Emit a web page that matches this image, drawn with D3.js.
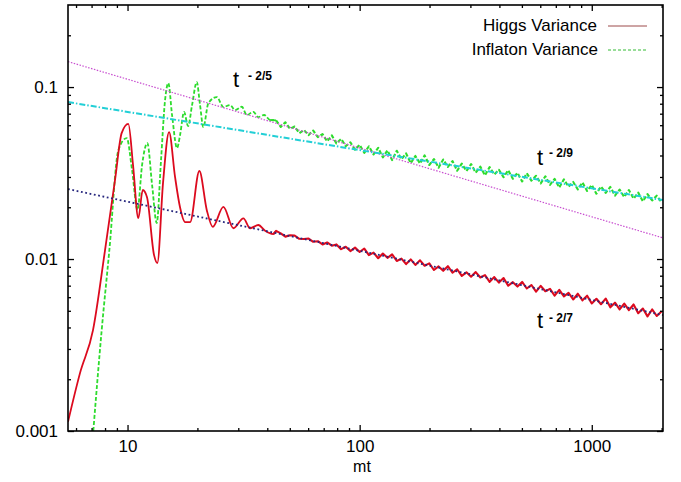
<!DOCTYPE html>
<html><head><meta charset="utf-8">
<script src="https://cdn.jsdelivr.net/npm/d3@7"></script>
<style>
body{margin:0;background:#fff}
text{font-family:"Liberation Sans",Arial,Helvetica,sans-serif;fill:#000}
</style>
</head><body>
<svg id="c" width="681" height="482"></svg>
<script>
// ---- data ----
const higgsEarlyT = [5.54, 6.24, 7.10, 8.00, 8.83, 9.44, 10.08, 10.56, 11.13, 11.63, 12.13, 13.01, 13.44, 14.22, 15.1, 16.02, 16.83, 17.7, 18.6, 20.39, 21.94, 23.29, 25.88, 28.58, 31.56, 33.73, 36.6, 39.14, 42.5];
const higgsEarlyV = [0.00113, 0.00217, 0.00386, 0.01127, 0.0288, 0.0541, 0.061, 0.0352, 0.0173, 0.0252, 0.0229, 0.01054, 0.00948, 0.0277, 0.0547, 0.030, 0.020, 0.0164, 0.0164, 0.0325, 0.0193, 0.0154, 0.0201, 0.0151, 0.01725, 0.0151, 0.01577, 0.0146, 0.01397];

const inflatonEarlyT = [7.12, 7.74, 8.35, 9.13, 9.92, 10.46, 11.04, 11.55, 12.17, 12.76, 13.36, 13.94, 14.51, 14.99, 15.55, 16.34, 16.84, 17.52, 18.23, 18.97, 19.87, 20.53, 21.21, 22.30, 24.24, 25.88, 27.66, 29.05, 31.06, 32.65, 34.85, 36.51, 38.77, 41.13];
const inflatonEarlyV = [0.001, 0.00387, 0.01128, 0.0430, 0.0505, 0.0329, 0.0193, 0.0352, 0.0472, 0.0269, 0.0162, 0.0376, 0.0840, 0.1055, 0.0688, 0.0442, 0.0526, 0.0716, 0.0593, 0.0786, 0.1069, 0.0786, 0.0585, 0.0807, 0.0875, 0.0765, 0.0786, 0.0735, 0.0768, 0.0688, 0.0718, 0.0669, 0.0688, 0.0643];

const lateT = [43.65, 45.71, 47.86, 50.12, 52.48, 54.95, 57.54, 60.26, 63.10, 66.07, 69.18, 72.44, 75.86, 79.43, 83.18, 87.10, 91.20, 95.50,
  100.0, 104.7, 109.6, 114.8, 120.2, 125.9, 131.8, 138.0, 144.5, 151.4, 158.5, 166.0, 173.8, 182.0, 190.5, 199.5, 208.9, 218.8, 229.1, 239.9, 251.2, 263.0, 275.4, 288.4, 302.0, 316.2, 331.1, 346.7, 363.1, 380.2, 398.1, 416.9, 436.5, 457.1, 478.6, 501.2, 524.8, 549.5, 575.4, 602.6, 631.0, 660.7, 691.8, 724.4, 758.6, 794.3, 831.8, 871.0, 912.0, 955.0,
  1000, 1047, 1096, 1148, 1202, 1259, 1318, 1380, 1445, 1514, 1585, 1660, 1738, 1820, 1905, 1995];

const higgsLateV = [0.01457, 0.01410, 0.01350, 0.01373, 0.01369, 0.01311, 0.01307, 0.01316, 0.01260, 0.01269, 0.01215, 0.01248, 0.01196, 0.01216, 0.01141, 0.01179, 0.01112, 0.01165,
  0.01099, 0.01151, 0.01054, 0.01089, 0.01011, 0.01076, 0.01016, 0.01064, 0.009743, 0.01006, 0.009343, 0.009945, 0.009243, 0.009828, 0.009143, 0.009436, 0.008634, 0.009057, 0.008542, 0.009082, 0.008321, 0.008720, 0.007979, 0.008370, 0.007894, 0.008393, 0.007808, 0.008058, 0.007374, 0.007849, 0.007294, 0.007754, 0.006993, 0.007335, 0.006919, 0.007357, 0.006740, 0.007063, 0.006462, 0.006980, 0.006493, 0.006701, 0.006132, 0.006622, 0.006066, 0.006357, 0.005817, 0.006283, 0.005755, 0.006120,
  0.005519, 0.005875, 0.005460, 0.005889, 0.005236, 0.005573, 0.005101, 0.005508, 0.005046, 0.005442, 0.004839, 0.005151, 0.004639, 0.005090, 0.004663, 0.004959];

const inflatonLateV = [0.06407, 0.05867, 0.06235, 0.05713, 0.05895, 0.05394, 0.05626, 0.05254, 0.05583, 0.05116, 0.05329, 0.04830, 0.05235, 0.04704, 0.04998, 0.04533, 0.04772, 0.04324,
  0.04621, 0.04146, 0.04518, 0.04058, 0.04437, 0.03901, 0.04286, 0.03762, 0.04259, 0.03803, 0.04114, 0.03611, 0.03974, 0.03595, 0.04005, 0.03522, 0.03814, 0.03396, 0.03791, 0.03434, 0.03714, 0.03260, 0.03587, 0.03245, 0.03565, 0.03179, 0.03443, 0.03066, 0.03423, 0.03100, 0.03305, 0.02990, 0.03285, 0.02930, 0.03174, 0.02826, 0.03154, 0.02857, 0.03046, 0.02755, 0.03027, 0.02700, 0.02924, 0.02604, 0.02905, 0.02633, 0.02807, 0.02539, 0.02790, 0.02488,
  0.02695, 0.02399, 0.02640, 0.02426, 0.02624, 0.02340, 0.02534, 0.02293, 0.02519, 0.02246, 0.02433, 0.02167, 0.02384, 0.02190, 0.02336, 0.02146];

// power-law guide lines (end points)
const fitT = [5.54, 2027];
const fit25V = [0.1406, 0.01327];   // t^-2/5
const fit29V = [0.08177, 0.02203];  // t^-2/9
const fit27V = [0.02551, 0.004723]; // t^-2/7

const xMajor = [10, 100, 1000];
const xMinor = [6, 7, 8, 9, 20, 30, 40, 50, 60, 70, 80, 90, 200, 300, 400, 500, 600, 700, 800, 900, 2000];
const yMajor = [0.001, 0.01, 0.1];
const yMinor = [0.002, 0.003, 0.004, 0.005, 0.006, 0.007, 0.008, 0.009, 0.02, 0.03, 0.04, 0.05, 0.06, 0.07, 0.08, 0.09, 0.2];

const seriesNames = ["Higgs Variance", "Inflaton Variance"];
const xLabel = "mt";

// ---- drawing ----
const svg = d3.select("#c");
const L = 68, R = 663, T = 5, B = 431;
const x = d3.scaleLog().domain([5.54, 2027]).range([L, R]);
const y = d3.scaleLog().domain([0.001, 0.3]).range([B, T]);

svg.append("defs").append("clipPath").attr("id", "clip")
  .append("rect").attr("x", L).attr("y", T).attr("width", R - L).attr("height", B - T);

const zip = (ts, vs) => ts.map((t, i) => [t, vs[i]]);
const line = d3.line().x(d => x(d[0])).y(d => y(d[1]));
const smooth = d3.line().x(d => x(d[0])).y(d => y(d[1])).curve(d3.curveMonotoneX);
const plot = svg.append("g").attr("clip-path", "url(#clip)");

function drawSeries(early, late, color, dash) {
  const e = early.concat([late[0]]);
  const l = [early[early.length - 1]].concat(late);
  [[e, smooth, 1.8], [l, line, 2.1]].forEach(([d, gen, w]) => {
    const p = plot.append("path").datum(d).attr("d", gen)
      .attr("fill", "none").attr("stroke", color).attr("stroke-width", w)
      .attr("stroke-linejoin", "round");
    if (dash) p.attr("stroke-dasharray", dash);
  });
}
drawSeries(zip(inflatonEarlyT, inflatonEarlyV), zip(lateT, inflatonLateV), "#2ddc2d", "4,2");
drawSeries(zip(higgsEarlyT, higgsEarlyV), zip(lateT, higgsLateV), "#dc0a1e", null);

plot.append("path").datum(zip(fitT, fit25V)).attr("d", line)
  .attr("fill", "none").attr("stroke", "#c84fd0").attr("stroke-width", 1.2).attr("stroke-dasharray", "1.5,1.5");
plot.append("path").datum(zip(fitT, fit29V)).attr("d", line)
  .attr("fill", "none").attr("stroke", "#22cfd6").attr("stroke-width", 2).attr("stroke-dasharray", "6,2,1.5,2");
plot.append("path").datum(zip(fitT, fit27V)).attr("d", line)
  .attr("fill", "none").attr("stroke", "#27277e").attr("stroke-width", 1.8).attr("stroke-dasharray", "1.8,2.6");

// axes
function styleAxis(g) {
  g.select(".domain").remove();
  g.selectAll("line").attr("stroke", "#000").attr("stroke-width", 1.3);
  g.selectAll("text").attr("font-size", 17).attr("font-family", "Liberation Sans, Arial, sans-serif").attr("fill", "#000");
}
svg.append("g").attr("transform", `translate(0,${B})`)
  .call(d3.axisBottom(x).tickValues(xMajor).tickSize(-6).tickPadding(9).tickFormat(d3.format("d"))).call(styleAxis);
svg.append("g").attr("transform", `translate(0,${B})`)
  .call(d3.axisBottom(x).tickValues(xMinor).tickSize(-3).tickFormat("")).call(styleAxis);
svg.append("g").attr("transform", `translate(0,${T})`)
  .call(d3.axisTop(x).tickValues(xMajor).tickSize(-6).tickFormat("")).call(styleAxis);
svg.append("g").attr("transform", `translate(0,${T})`)
  .call(d3.axisTop(x).tickValues(xMinor).tickSize(-3).tickFormat("")).call(styleAxis);
svg.append("g").attr("transform", `translate(${L},0)`)
  .call(d3.axisLeft(y).tickValues(yMajor).tickSize(-6).tickPadding(10).tickFormat(d => String(d))).call(styleAxis);
svg.append("g").attr("transform", `translate(${L},0)`)
  .call(d3.axisLeft(y).tickValues(yMinor).tickSize(-3).tickFormat("")).call(styleAxis);
svg.append("g").attr("transform", `translate(${R},0)`)
  .call(d3.axisRight(y).tickValues(yMajor).tickSize(-6).tickFormat("")).call(styleAxis);
svg.append("g").attr("transform", `translate(${R},0)`)
  .call(d3.axisRight(y).tickValues(yMinor).tickSize(-3).tickFormat("")).call(styleAxis);

svg.append("rect").attr("x", L).attr("y", T).attr("width", R - L).attr("height", B - T)
  .attr("fill", "none").attr("stroke", "#000").attr("stroke-width", 1.6);

svg.append("text").attr("x", 362).attr("y", 472).attr("text-anchor", "middle")
  .attr("font-size", 16).text(xLabel);

// legend
const legend = svg.append("g");
legend.append("text").attr("x", 597).attr("y", 31).attr("text-anchor", "end").attr("font-size", 17).text(seriesNames[0]);
legend.append("text").attr("x", 598).attr("y", 55).attr("text-anchor", "end").attr("font-size", 17).text(seriesNames[1]);
legend.append("line").attr("x1", 608).attr("x2", 647).attr("y1", 26).attr("y2", 26)
  .attr("stroke", "#9c4a4a").attr("stroke-width", 1);
legend.append("line").attr("x1", 608).attr("x2", 647).attr("y1", 50).attr("y2", 50)
  .attr("stroke", "#33bb33").attr("stroke-width", 1).attr("stroke-dasharray", "3,2");

// power-law annotations
const notes = [
  {t: "t", s: "- 2/5", x: 233, y: 87, sx: 248, sy: 80},
  {t: "t", s: "- 2/9", x: 537, y: 165, sx: 549, sy: 157},
  {t: "t", s: "- 2/7", x: 537, y: 328, sx: 549, sy: 322}
];
notes.forEach(n => {
  svg.append("text").attr("x", n.x).attr("y", n.y).attr("font-size", 22).text(n.t);
  svg.append("text").attr("x", n.sx).attr("y", n.sy).attr("font-size", 12).attr("font-weight", "bold").text(n.s);
});
</script>
</body></html>
